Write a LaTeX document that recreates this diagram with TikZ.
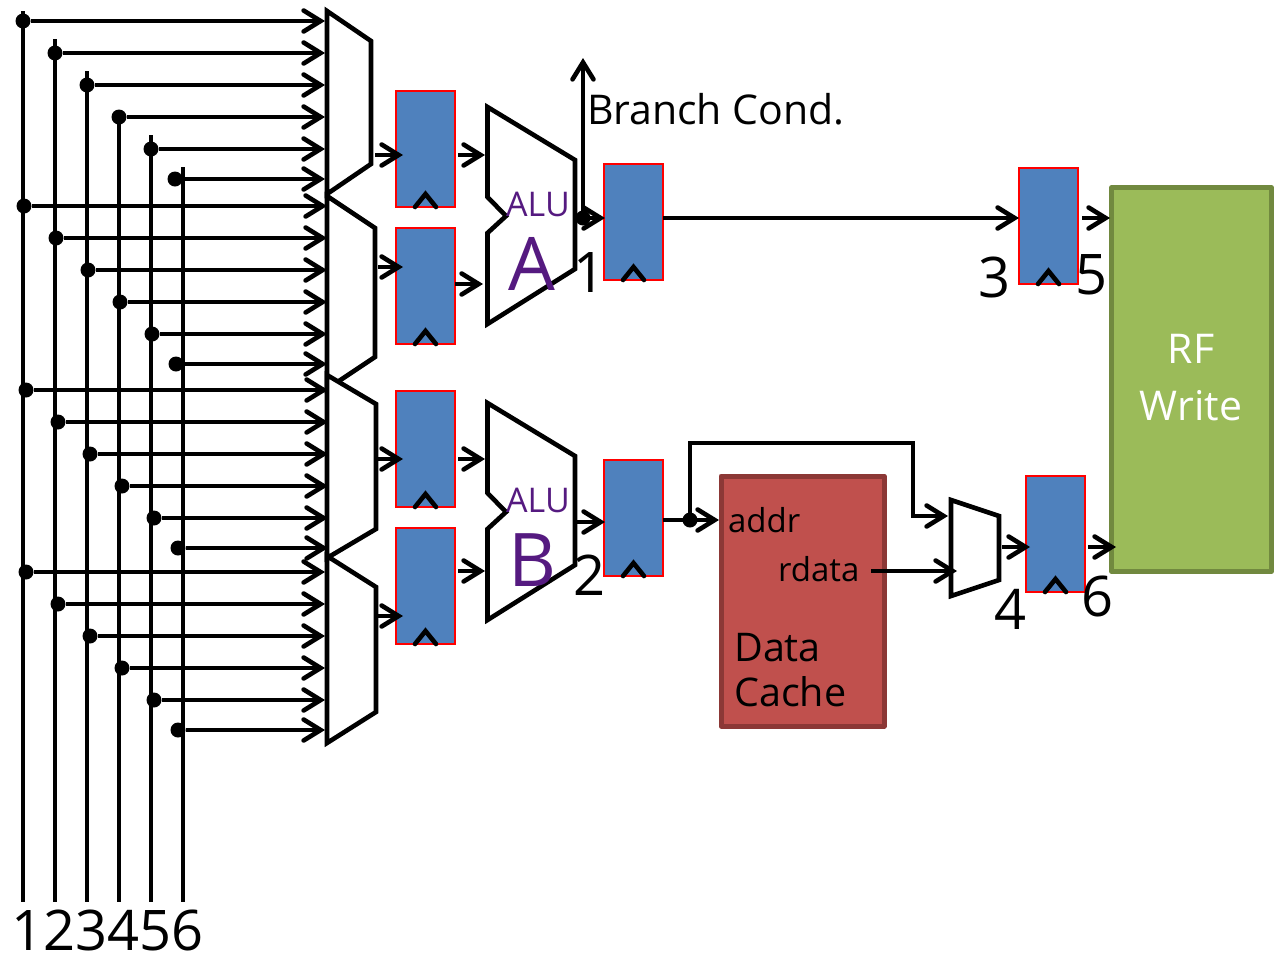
\documentclass[tikz,border=0pt]{standalone}
\usepackage{fontspec}
\setmainfont{Open Sans}
\usepackage{xcolor}
\usetikzlibrary{arrows.meta}
\definecolor{regblue}{HTML}{4F81BD}
\definecolor{cachered}{HTML}{C0504D}
\definecolor{cacheedge}{HTML}{8C3836}
\definecolor{rfgreen}{HTML}{9BBB59}
\definecolor{rfedge}{HTML}{71893F}
\definecolor{alupurple}{HTML}{551A80}
\newcommand{\fs}[1]{\fontsize{#1}{#1}\selectfont}
\tikzset{
  wire/.style={line width=4.6pt,line join=miter},
  arr/.style={wire,-{Straight Barb[length=17pt,width=21pt,line cap=round]}},
  muxbox/.style={wire,fill=white},
  junction/.style={circle,fill=black,inner sep=0pt,minimum size=15pt},
  regbox/.style={draw=red,line width=1.8pt,fill=regblue,minimum width=59pt,minimum height=116pt,inner sep=0pt,outer sep=0pt},
  lab/.style={inner sep=0pt,outer sep=0pt,anchor=base},
  num/.style={lab,font=\fs{56}},
}
\begin{document}
\begin{tikzpicture}[x=1pt,y=-1pt]
\useasboundingbox (0,0) rectangle (1278,954);
% input buses
\foreach \n/\x/\top in {1/23/11,2/55/39,3/87/71,4/119/110,5/151/135,6/183/167} {
  \coordinate (bustop\n) at (\x,\top);
  \coordinate (busend\n) at (\x,902);
  \draw[wire] (bustop\n) -- (busend\n);
  \node[num] (busnum\n) at (\x+5,950) {\n};
}
% input muxes
\draw[muxbox] (327,11) -- (371,41) -- (371,164) -- (327,194) -- cycle;
\draw[muxbox] (327,196) -- (375,228) -- (375,357) -- (327,389) -- cycle;
\draw[muxbox] (327,375) -- (376,404) -- (376,529) -- (327,558) -- cycle;
\draw[muxbox] (327,556) -- (376,587) -- (376,712) -- (327,743) -- cycle;
% bus taps
\foreach \dotx/\rowy/\tipx [count=\n] in {
  23/21/325,55/53/325,87/85/325,119/117/325,151/149/325,175/179/325,
  24/206/327,56/238/327,88/270/327,120/302/327,152/334/327,176/364/327,
  26/390/328,58/422/328,90/454/328,122/486/328,154/518/328,178/548/328,
  26/572/325,58/604/325,90/636/325,122/668/325,154/700/325,178/730/325} {
  \node[junction] (tap\n) at (\dotx,\rowy) {};
  \coordinate (tip\n) at (\tipx,\rowy);
  \draw[arr] (tap\n) -- (tip\n);
}
% registers
\node[regbox] (regA) at (425.5,149) {};
\node[regbox] (regB) at (425.5,286) {};
\node[regbox] (regC) at (425.5,449) {};
\node[regbox] (regD) at (425.5,586) {};
\node[regbox] (regE) at (633.5,222) {};
\node[regbox] (regF) at (633.5,518) {};
\node[regbox] (regG) at (1048.5,226) {};
\node[regbox] (regH) at (1055.5,534) {};
\foreach \r in {regA,regB,regC,regD,regE,regF,regG,regH} {
  \draw[wire,line cap=round] ([xshift=-10.5pt,yshift=0pt]\r.south) -- ([yshift=13pt]\r.south) -- ([xshift=10.5pt,yshift=0pt]\r.south);
}
% alus
\foreach \d/\t in {0/A,296/B} {
  \begin{scope}[yshift=-\d pt]
  \draw[muxbox] (487.5,107) -- (575,160) -- (575,269) -- (487.5,324) -- (487.5,233) -- (506,216) -- (487.5,197) -- cycle;
  \node[lab,text=alupurple,font=\fs{34}] (alu\t) at (538,216) {ALU};
  \node[lab,text=alupurple,font=\fs{74}] (name\t) at (532,290) {\t};
  \end{scope}
}
% blocks
\node[draw=cacheedge,line width=5pt,fill=cachered,line join=round,minimum width=163pt,minimum height=250pt,outer sep=0pt] (cache) at (802.5,601) {};
\node[draw=rfedge,line width=5pt,fill=rfgreen,line join=round,minimum width=160pt,minimum height=383.5pt,outer sep=0pt] (rfwrite) at (1191.5,379.5) {};
\node[align=center,text=white,font=\fs{41},inner sep=0pt] (rftext) at (1191,378) {RF\\[16pt]Write};
\node[lab,anchor=base west,font=\fs{33}] (addr) at (728,532) {addr};
\node[lab,anchor=base west,font=\fs{33}] (rdata) at (778,581) {rdata};
\node[anchor=north west,align=left,font=\fs{39.5},inner sep=0pt] (cachetext) at (734,633) {Data\\[6pt]Cache};
\node[lab,anchor=base west,font=\fs{41}] (branch) at (587,124) {Branch Cond.};
% small mux
\draw[muxbox] (951,500) -- (999,516) -- (999,580) -- (951,596) -- cycle;
% output numbers
\node[num] (numA) at (590,292) {1};
\node[num] (numB) at (590,595) {2};
\node[num] (numC) at (995,297) {3};
\node[num] (numD) at (1011,629) {4};
\node[num] (numE) at (1091,294) {5};
\node[num] (numF) at (1097,616) {6};
% straight arrows
\foreach \n/\xa/\xb/\y in {
  muxAout/375/403/155,regAout/458/485/155,
  muxBout/378/403/267,regBout/455/483/284,
  muxCout/378/403/459,regCout/458/485/459,
  muxDout/378/403/616,regDout/458/485/571,
  aluAout/577/605/218,regEout/663/1019/218,regGout/1082/1110/218,
  aluBout/577/605/522,muxEout/1002/1030/547,regHout/1088/1116/547,
  rdataout/871/957/571} {
  \coordinate (\n a) at (\xa,\y);
  \coordinate (\n b) at (\xb,\y);
  \draw[arr] (\n a) -- (\n b);
}
% branch condition
\node[junction] (brdot) at (583,218) {};
\coordinate (brtip) at (583,58);
\draw[arr] (brdot.center) -- (brtip);
% data cache feed and bypass
\coordinate (regFout) at (663,520);
\coordinate (addrin) at (719,520);
\coordinate (muxEin) at (948,516);
\node[junction] (cachedot) at (690,520) {};
\draw[arr] (regFout) -- (addrin);
\draw[arr] (cachedot.center) |- (913,443) |- (muxEin);
\end{tikzpicture}
\end{document}
